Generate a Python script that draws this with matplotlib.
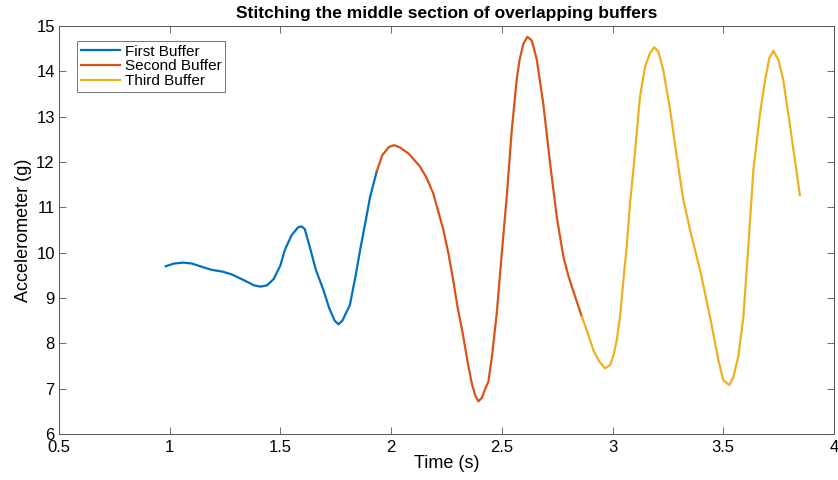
import numpy as np
import matplotlib.pyplot as plt

plt.rcParams['font.family'] = ['Liberation Sans', 'DejaVu Sans']

# first buffer
t1 = [0.982, 1.02, 1.061, 1.10, 1.15, 1.19, 1.24, 1.28, 1.34, 1.38, 1.41, 1.44,
      1.47, 1.50, 1.52, 1.55, 1.58, 1.595, 1.61, 1.634, 1.66, 1.694, 1.72, 1.745,
      1.762, 1.78, 1.814, 1.84, 1.86, 1.885, 1.905, 1.935]
y1 = [9.70, 9.76, 9.78, 9.76, 9.68, 9.62, 9.58, 9.52, 9.38, 9.28, 9.25, 9.28,
      9.42, 9.72, 10.06, 10.38, 10.56, 10.58, 10.52, 10.10, 9.62, 9.18, 8.78, 8.50,
      8.42, 8.50, 8.85, 9.50, 10.06, 10.70, 11.23, 11.79]

# second buffer
t2 = [1.935, 1.96, 1.99, 2.013, 2.04, 2.08, 2.13, 2.16, 2.19, 2.236, 2.26, 2.28,
      2.30, 2.326, 2.345, 2.364, 2.38, 2.394, 2.41, 2.425, 2.439, 2.455, 2.477,
      2.50, 2.522, 2.545, 2.567, 2.58, 2.597, 2.615, 2.635, 2.657, 2.687, 2.718,
      2.748, 2.778, 2.80, 2.816, 2.84, 2.861]
y2 = [11.79, 12.15, 12.33, 12.37, 12.32, 12.18, 11.90, 11.65, 11.31, 10.50, 9.95, 9.40,
      8.80, 8.15, 7.60, 7.12, 6.85, 6.72, 6.80, 7.00, 7.15, 7.70, 8.66,
      10.00, 11.23, 12.71, 13.81, 14.25, 14.60, 14.76, 14.68, 14.28, 13.29, 11.97,
      10.79, 9.91, 9.50, 9.25, 8.90, 8.59]

# third buffer
t3 = [2.861, 2.89, 2.913, 2.94, 2.966, 2.989, 3.005, 3.019, 3.034, 3.049, 3.064,
      3.079, 3.094, 3.11, 3.124, 3.147, 3.169, 3.188, 3.207, 3.229, 3.26, 3.29,
      3.32, 3.35, 3.395, 3.44, 3.478, 3.50, 3.527, 3.546, 3.568, 3.591, 3.613,
      3.636, 3.666, 3.689, 3.708, 3.726, 3.749, 3.771, 3.80, 3.846]
y3 = [8.59, 8.20, 7.85, 7.60, 7.45, 7.52, 7.75, 8.07, 8.60, 9.40, 10.13,
      11.09, 11.82, 12.70, 13.44, 14.10, 14.40, 14.53, 14.43, 14.03, 13.15, 12.12,
      11.16, 10.50, 9.62, 8.59, 7.63, 7.19, 7.08, 7.26, 7.71, 8.59, 10.13,
      11.82, 13.07, 13.81, 14.29, 14.45, 14.25, 13.81, 12.85, 11.27]

fig = plt.figure(figsize=(8.38, 4.8), dpi=100)
ax = fig.add_axes([0.0704, 0.0958, 0.9248, 0.8502])

ax.plot(t1, y1, color='#0072BD', lw=1.6, label='First Buffer')
ax.plot(t2, y2, color='#D95319', lw=1.6, label='Second Buffer')
ax.plot(t3, y3, color='#EDB120', lw=1.6, label='Third Buffer')

ax.set_xlim(0.5, 4)
ax.set_ylim(6, 15)
ax.set_xticks(np.arange(0.5, 4.01, 0.5))
ax.set_xticklabels(['0.5', '1', '1.5', '2', '2.5', '3', '3.5', '4'])
ax.set_yticks(np.arange(6, 16, 1))
ax.tick_params(direction='in', top=True, right=True, length=5, width=0.6,
               color='#555555', labelsize=12)
ax.tick_params(axis='x', pad=4)
ax.tick_params(axis='y', pad=3)
for s in ax.spines.values():
    s.set_color('#555555')
    s.set_linewidth(0.7)

ax.set_xlabel('Time (s)', fontsize=13, labelpad=0)
ax.set_ylabel('Accelerometer (g)', fontsize=13, labelpad=3)
ax.set_title('Stitching the middle section of overlapping buffers',
             fontsize=12.5, fontweight='bold', pad=6)

leg = ax.legend(loc='upper left', bbox_to_anchor=(0.017, 0.975), fontsize=11,
                frameon=True, fancybox=False, handlelength=2.6, handletextpad=0.3,
                labelspacing=0.05, borderpad=0.25, borderaxespad=0.3)
leg.get_frame().set_edgecolor('#333333')
leg.get_frame().set_linewidth(0.6)

plt.savefig('out.png', dpi=100)
